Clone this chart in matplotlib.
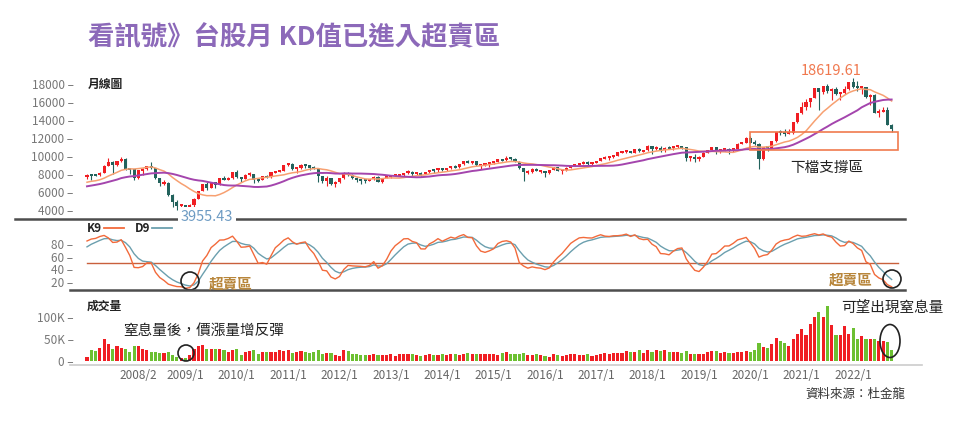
import numpy as np
import pandas as pd
import matplotlib
matplotlib.use("Agg")
import matplotlib.pyplot as plt
from matplotlib.lines import Line2D
from matplotlib.patches import Rectangle, Ellipse

plt.rcParams['font.family'] = ['Noto Sans CJK TC', 'DejaVu Sans']

W, H = 959, 423

# months before the chart (2005/2 - 2007/1), only used for the MA / KD warm-up
warm_close = [6207, 6006, 5818, 6011, 6242, 6312, 6033, 6119, 5764, 6204, 6548,
              6532, 6561, 6613, 7172, 6847, 6704, 6455, 6611, 6884, 7021, 7280, 7823,
              7699]
warm_high = [6235, 6245, 6050, 6080, 6300, 6480, 6420, 6200, 6160, 6220, 6580,
             6770, 6700, 6640, 7200, 7474, 6910, 6960, 6660, 6900, 7100, 7300, 7840,
             7950]
warm_low = [5970, 5960, 5565, 5810, 6000, 6200, 6000, 5990, 5620, 5750, 6180,
            6430, 6390, 6470, 6600, 6800, 6230, 6250, 6340, 6550, 6820, 6980, 7220,
            7610]

# monthly bars 2007/2 - 2022/10
opens = [7699, 7901, 7884, 7875, 8145, 8883, 9287, 8982, 9411, 9711, 8586,
         8506, 7521, 8412, 8572, 8919, 8619, 7523, 7024, 7046, 5719, 4870, 4460,
         4591, 4248, 4557, 5211, 6063, 6890, 6432, 7078, 6826, 7509, 7340, 7582,
         8188, 7640, 7436, 7920, 8004, 7374, 7329, 7760, 7616, 8238, 8288, 8372,
         8972, 9145, 8600, 8683, 9008, 8988, 8652, 8644, 7741, 7225, 7587, 6904,
         7072, 7517, 8121, 7933, 7501, 7301, 7296, 7270, 7397, 7716, 7166, 7580,
         7700, 7850, 7908, 7919, 8094, 8254, 8062, 8108, 7997, 8174, 8450, 8406,
         8612, 8462, 8640, 8849, 8791, 9075, 9393, 9315, 9436, 8966, 8974, 9187,
         9307, 9361, 9622, 9586, 9820, 9701, 9323, 8665, 8174, 8181, 8554, 8320,
         8338, 8145, 8411, 8744, 8377, 8535, 8666, 9007, 9068, 9166, 9290, 9240,
         9253, 9448, 9750, 9811, 9872, 10040, 10395, 10427, 10585, 10383, 10793, 10560,
         10643, 11103, 10815, 10919, 10657, 10875, 10837, 11057, 11063, 11006, 9802, 9888,
         9727, 9932, 10389, 10641, 10967, 10498, 10731, 10824, 10618, 10829, 11358, 11489,
         11997, 11495, 11292, 9708, 10992, 10943, 11621, 12665, 12592, 12516, 12546, 13723,
         14733, 15410, 15954, 16431, 17567, 17068, 17755, 17247, 17490, 16935, 16987, 17428,
         18219, 17674, 17652, 17693, 16592, 16807, 14826, 15000, 15095, 13425]
highs = [7990, 7930, 8030, 8180, 8950, 9807, 9450, 9450, 9859, 9750, 8700,
         8530, 8430, 8700, 8920, 9309, 8700, 7600, 7376, 7100, 5800, 5100, 4700,
         4600, 4650, 5300, 6100, 6890, 7084, 7100, 7100, 7550, 7811, 7700, 8200,
         8395, 7700, 7950, 8190, 8050, 7600, 7800, 7900, 8250, 8300, 8500, 8990,
         9220, 9200, 8750, 9100, 9100, 9050, 8850, 8650, 7800, 7800, 7600, 7200,
         7550, 8170, 8170, 7960, 7650, 7400, 7400, 7500, 7800, 7750, 7600, 7750,
         7900, 7970, 7990, 8100, 8400, 8300, 8200, 8200, 8250, 8480, 8460, 8630,
         8700, 8650, 8880, 8960, 9080, 9400, 9593, 9450, 9500, 9000, 9200, 9300,
         9500, 9650, 9700, 10014, 9900, 9750, 9400, 8700, 8400, 8650, 8650, 8400,
         8350, 8450, 8800, 8750, 8550, 8750, 9050, 9150, 9200, 9400, 9400, 9380,
         9480, 9760, 9970, 9970, 10100, 10500, 10500, 10600, 10600, 10800, 10850, 10650,
         11270, 11150, 11100, 11100, 11000, 11100, 11100, 11200, 11100, 11050, 10000, 10200,
         10000, 10400, 10650, 11000, 11000, 10800, 10900, 10850, 10900, 11400, 11600, 12100,
         12197, 11800, 11400, 11000, 11100, 11700, 12700, 12900, 12950, 13000, 13800, 14760,
         16031, 16300, 16500, 17600, 17600, 17800, 18034, 17600, 17700, 17000, 17800, 18250,
         18619.61, 18300, 17800, 17700, 16900, 16900, 15200, 15500, 15400, 13600]
lows = [7490, 7306, 7740, 7800, 8100, 8870, 7987, 8900, 9300, 8400, 7966,
        7384, 7408, 7900, 8400, 8600, 7500, 6708, 6800, 5530, 4367, 3955.43, 4100,
        4164, 4200, 4380, 5200, 6060, 6200, 6400, 6500, 6800, 7300, 7300, 7500,
        7600, 7080, 7400, 7800, 7032, 7100, 7300, 7600, 7600, 8100, 8200, 8300,
        8900, 8500, 8070, 8600, 8700, 8450, 8600, 7150, 7000, 6700, 6750, 6609,
        6980, 7500, 7800, 7450, 7100, 6900, 7000, 7250, 7300, 7150, 7050, 7550,
        7600, 7800, 7750, 7800, 8050, 7700, 7900, 7800, 7950, 8150, 8100, 8200,
        8350, 8300, 8600, 8700, 8700, 9000, 9250, 9100, 8900, 8501, 8900, 8800,
        9150, 9300, 9500, 9500, 9600, 9300, 8600, 7203, 8000, 8150, 8300, 8100,
        7627, 8050, 8400, 8300, 8053, 8300, 8650, 8950, 8950, 9150, 8900, 9050,
        9200, 9400, 9650, 9600, 9800, 10000, 10300, 10300, 10300, 10380, 10450, 10450,
        10600, 10189, 10700, 10500, 10500, 10800, 10700, 10850, 10800, 9400, 9500, 9319,
        9400, 9900, 10300, 10600, 10200, 10300, 10600, 10200, 10500, 10750, 11300, 11400,
        11400, 11200, 8523, 9600, 10600, 10900, 11600, 12300, 12200, 12400, 12500, 13700,
        14700, 15100, 15500, 16400, 15159, 16900, 17000, 16250, 16800, 16200, 16900, 17300,
        17600, 17200, 16900, 16500, 15616, 14825, 14340, 14900, 13400, 12629]
closes = [7901, 7884, 7875, 8145, 8883, 9287, 8982, 9411, 9711, 8586, 8506,
          7521, 8412, 8572, 8919, 8619, 7523, 7024, 7046, 5719, 4870, 4460, 4591,
          4248, 4557, 5211, 6063, 6890, 6432, 7078, 6826, 7509, 7340, 7582, 8188,
          7640, 7436, 7920, 8004, 7374, 7329, 7760, 7616, 8238, 8288, 8372, 8972,
          9145, 8600, 8683, 9008, 8988, 8652, 8644, 7741, 7225, 7587, 6904, 7072,
          7517, 8121, 7933, 7501, 7301, 7296, 7270, 7397, 7716, 7166, 7580, 7700,
          7850, 7908, 7919, 8094, 8254, 8062, 8108, 7997, 8174, 8450, 8406, 8612,
          8462, 8640, 8849, 8791, 9075, 9393, 9315, 9436, 8966, 8974, 9187, 9307,
          9361, 9622, 9586, 9820, 9701, 9323, 8665, 8174, 8181, 8554, 8320, 8338,
          8145, 8411, 8744, 8377, 8535, 8666, 9007, 9068, 9166, 9290, 9240, 9253,
          9448, 9750, 9811, 9872, 10040, 10395, 10427, 10585, 10383, 10793, 10560, 10643,
          11103, 10815, 10919, 10657, 10875, 10837, 11057, 11063, 11006, 9802, 9888, 9727,
          9932, 10389, 10641, 10967, 10498, 10731, 10824, 10618, 10829, 11358, 11489, 11997,
          11495, 11292, 9708, 10992, 10943, 11621, 12665, 12592, 12516, 12546, 13723, 14733,
          15410, 15954, 16431, 17567, 17068, 17755, 17247, 17490, 16935, 16987, 17428, 18219,
          17674, 17652, 17693, 16592, 16807, 14826, 15000, 15095, 13425, 12949]
# turnover, in K
volumes = [9, 26, 22, 30, 49, 38, 27, 34, 29, 27, 20,
           33, 34, 28, 24, 20, 20, 18, 18, 20, 14, 10, 7,
           6, 13, 28, 34, 36, 28, 27, 28, 28, 26, 20, 25,
           27, 13, 21, 22, 24, 17, 20, 21, 20, 21, 26, 22,
           25, 19, 20, 22, 21, 19, 21, 26, 17, 19, 18, 14,
           12, 24, 22, 17, 16, 13, 13, 14, 16, 13, 13, 14,
           16, 12, 15, 15, 17, 15, 14, 12, 13, 15, 13, 14,
           15, 13, 16, 15, 14, 17, 19, 17, 16, 17, 15, 16,
           16, 13, 18, 20, 17, 16, 17, 19, 13, 14, 15, 14,
           11, 10, 16, 13, 12, 14, 16, 16, 14, 13, 15, 12,
           14, 16, 19, 15, 18, 19, 19, 22, 20, 21, 24, 19,
           26, 20, 24, 22, 24, 21, 20, 20, 19, 23, 17, 15,
           16, 15, 20, 23, 23, 18, 20, 19, 18, 20, 21, 22,
           21, 26, 42, 32, 30, 38, 52, 46, 42, 35, 50, 62,
           73, 58, 85, 100, 111, 100, 124, 81, 58, 58, 79, 62,
           75, 51, 56, 51, 51, 51, 46, 46, 43, 26]

tick_pos = [12, 23, 35, 47, 59, 71, 83, 95, 107, 119, 131, 143, 155, 167, 179]
tick_labels = ['2008/2', '2009/1', '2010/1', '2011/1', '2012/1', '2013/1', '2014/1',
               '2015/1', '2016/1', '2017/1', '2018/1', '2019/1', '2020/1', '2021/1',
               '2022/1']

# ---- indicators
all_c = np.array(warm_close + closes, dtype=float)
all_h = np.array(warm_high + highs, dtype=float)
all_l = np.array(warm_low + lows, dtype=float)
nw = len(warm_close)
ma12 = pd.Series(all_c).rolling(12).mean().values[nw:]
ma24 = pd.Series(all_c).rolling(24).mean().values[nw:]
kk, dd = [], []
kp, dp = 50.0, 50.0
for i in range(len(all_c)):
    lo = all_l[max(0, i - 8):i + 1].min()
    hi = all_h[max(0, i - 8):i + 1].max()
    rsv = (all_c[i] - lo) / (hi - lo) * 100
    kp = kp * 2 / 3 + rsv / 3
    dp = dp * 2 / 3 + kp / 3
    kk.append(kp)
    dd.append(dp)
k9 = np.array(kk[nw:])
d9 = np.array(dd[nw:])

o = np.array(opens, dtype=float)
c = np.array(closes, dtype=float)
x = np.arange(len(c))
up = c >= o
RED = '#f01e23'
TEAL = '#22625c'
VGREEN = '#6cc031'
cand_col = np.where(up, RED, TEAL)
vol_col = np.where(up, RED, VGREEN)

fig = plt.figure(figsize=(W / 100, H / 100), dpi=100)


def px_axes(l, t, r, b):
    return fig.add_axes([l / W, 1 - b / H, (r - l) / W, (b - t) / H])


def fx(p):
    return p / W


def fy(p):
    return 1 - p / H


x0_px, step = 87, 4.28
L, R = 75, 905
xlim = ((L - x0_px) / step, (R - x0_px) / step)

# ---- price panel
ax = px_axes(L, 60, R, 219)
ax.vlines(x, lows, highs, colors=cand_col, lw=0.8)
body = np.maximum(np.abs(c - o), 220)
mid = (o + c) / 2
ax.bar(x, body, bottom=mid - body / 2, width=0.72, color=cand_col, lw=0)
ax.plot(x, ma12, color='#f7a071', lw=1.1)
ax.plot(x, ma24, color='#a445ad', lw=1.4)
ax.set_xlim(*xlim)
ax.set_ylim(3000, 20667)
yt = [4000, 6000, 8000, 10000, 12000, 14000, 16000, 18000]
ax.set_yticks(yt)
ax.set_yticklabels([f'{v} –' for v in yt], color='#777777', fontsize=8.5)
ax.tick_params(axis='y', length=0, pad=1)
ax.set_xticks([])
for s in ax.spines.values():
    s.set_visible(False)

# ---- KD panel
ak = px_axes(L, 222, R, 289)
ak.axhline(50, color='#c9603c', lw=1.0, xmin=(87 - L) / (R - L), xmax=(898 - L) / (R - L))
ak.plot(x, d9, color='#6b9fae', lw=1.0)
ak.plot(x, k9, color='#f26a3b', lw=1.0)
ak.set_xlim(*xlim)
ak.set_ylim(8.9, 114.7)
kt = [20, 40, 60, 80]
ak.set_yticks(kt)
ak.set_yticklabels([f'{v} –' for v in kt], color='#777777', fontsize=8.5)
ak.tick_params(axis='y', length=0, pad=1)
ak.set_xticks([])
for s in ak.spines.values():
    s.set_visible(False)

# ---- volume panel
av = px_axes(L, 295, R, 365)
av.bar(x, volumes, width=0.72, color=vol_col, lw=0)
av.set_xlim(*xlim)
av.set_ylim(-9.1, 150)
vt = [0, 50, 100]
av.set_yticks(vt)
av.set_yticklabels(['0 –', '50K –', '100K –'], color='#777777', fontsize=8.5)
av.tick_params(axis='y', length=0, pad=1)
av.set_xticks(tick_pos)
av.set_xticklabels(tick_labels, color='#666666', fontsize=8.5)
av.tick_params(axis='x', length=0, pad=3)
for s in av.spines.values():
    s.set_visible(False)

# ---- frame lines
fig.add_artist(Line2D([fx(15), fx(905)], [fy(219), fy(219)], color='#4d4d4d', lw=1.8))
fig.add_artist(Line2D([fx(70), fx(905)], [fy(290), fy(290)], color='#4d4d4d', lw=1.8))
fig.add_artist(Line2D([fx(70), fx(922)], [fy(365), fy(365)], color='#cccccc', lw=1.2))

# ---- texts
fig.text(fx(88), fy(38), '看訊號》台股月 KD值已進入超賣區', color='#8c69b9',
         fontsize=19, fontweight='bold', va='center', ha='left')
fig.text(fx(88), fy(84), '月線圖', fontsize=8.5, fontweight='bold', va='center', color='#222222')
fig.text(fx(87), fy(306), '成交量', fontsize=8.5, fontweight='bold', va='center', color='#222222')
fig.text(fx(207), fy(217), '3955.43', color='#6d9bc3', fontsize=10.5, ha='center', va='center',
         bbox=dict(facecolor='white', edgecolor='none', pad=2))
fig.text(fx(831), fy(71), '18619.61', color='#f0784e', fontsize=10.5, ha='center', va='center')
fig.text(fx(827), fy(168), '下檔支撐區', color='#222222', fontsize=10.5, ha='center', va='center')
fig.add_artist(Rectangle((fx(750), fy(150)), (898 - 750) / W, 18 / H, transform=fig.transFigure,
                         fill=False, ec='#f07a4e', lw=1.2))

# KD legend
fig.text(fx(87), fy(228), 'K9', fontsize=8.5, fontweight='bold', va='center', color='#222222')
fig.add_artist(Line2D([fx(104), fx(124)], [fy(228), fy(228)], color='#f26a3b', lw=1.3))
fig.text(fx(135), fy(228), 'D9', fontsize=8.5, fontweight='bold', va='center', color='#222222')
fig.add_artist(Line2D([fx(152), fx(172)], [fy(228), fy(228)], color='#6b9fae', lw=1.3))

fig.add_artist(Ellipse((fx(190), fy(281)), 18 / W, 18 / H, transform=fig.transFigure,
                       fill=False, ec='#222222', lw=1.2))
fig.add_artist(Ellipse((fx(892), fy(279)), 18 / W, 18 / H, transform=fig.transFigure,
                       fill=False, ec='#222222', lw=1.2))
fig.text(fx(231), fy(284), '超賣區', color='#b8863b', fontsize=10.5, fontweight='bold',
         ha='center', va='center')
fig.text(fx(851), fy(280), '超賣區', color='#b8863b', fontsize=10.5, fontweight='bold',
         ha='center', va='center')

fig.text(fx(204), fy(331), '窒息量後，價漲量增反彈', color='#222222', fontsize=10.5,
         ha='center', va='center')
fig.add_artist(Ellipse((fx(186), fy(353)), 16 / W, 16 / H, transform=fig.transFigure,
                       fill=False, ec='#222222', lw=1.2))
fig.text(fx(892), fy(308), '可望出現窒息量', color='#222222', fontsize=10.5,
         ha='center', va='center')
fig.add_artist(Ellipse((fx(890), fy(341)), 20 / W, 33 / H, transform=fig.transFigure,
                       fill=False, ec='#222222', lw=1.2))
fig.text(fx(905), fy(394), '資料來源：杜金龍', color='#333333', fontsize=9,
         ha='right', va='center')

fig.savefig('out.png', dpi=100, facecolor='white')
